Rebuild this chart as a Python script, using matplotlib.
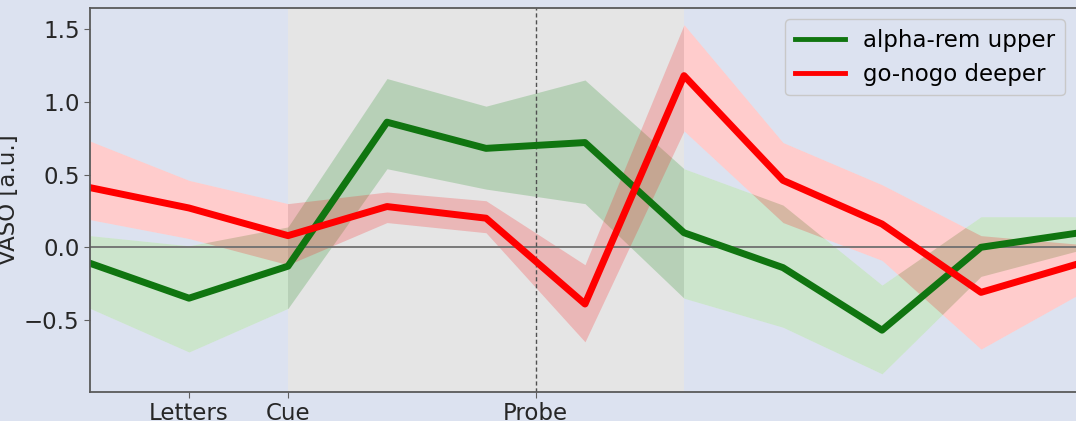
import numpy as np
import matplotlib
matplotlib.use("Agg")
import matplotlib.pyplot as plt
from matplotlib.lines import Line2D

# time points (in TR) and the two layer/condition averages with their error bands
t = np.arange(11)

alpha_rem_upper = [-0.11, -0.35, -0.13, 0.86, 0.68, 0.72, 0.10, -0.14, -0.57, 0.00, 0.10]
alpha_rem_hi = [0.08, 0.01, 0.14, 1.16, 0.97, 1.15, 0.54, 0.29, -0.26, 0.21, 0.21]
alpha_rem_lo = [-0.42, -0.72, -0.42, 0.54, 0.40, 0.30, -0.35, -0.55, -0.87, -0.20, -0.02]

gonogo_deeper = [0.41, 0.27, 0.08, 0.28, 0.20, -0.39, 1.18, 0.46, 0.16, -0.31, -0.11]
gonogo_hi = [0.73, 0.46, 0.30, 0.38, 0.32, -0.12, 1.53, 0.72, 0.43, 0.08, 0.02]
gonogo_lo = [0.19, 0.06, -0.12, 0.17, 0.10, -0.65, 0.80, 0.17, -0.09, -0.70, -0.32]

event_ticks = [1, 2, 4.5]
event_labels = ["Letters", "Cue", "Probe"]
trial_window = (2, 6)
probe_time = 4.5

bg = "#dce2f0"
fs = 16.5

fig = plt.figure(figsize=(10.76, 4.21), dpi=100, facecolor=bg)
ax = fig.add_axes([90 / 1076, 29 / 421, 990 / 1076, 384 / 421])
ax.set_facecolor(bg)

# white base under the shaded window and the bands
ax.axvspan(*trial_window, color="white", lw=0, zorder=0.2)
ax.fill_between(t, alpha_rem_lo, alpha_rem_hi, color="white", lw=0, zorder=0.2)
ax.fill_between(t, gonogo_lo, gonogo_hi, color="white", lw=0, zorder=0.2)

ax.axvspan(*trial_window, color="grey", alpha=0.2, lw=0, zorder=0.4)
ax.fill_between(t, alpha_rem_lo, alpha_rem_hi, color="green", alpha=0.2, lw=0, zorder=0.6)
ax.fill_between(t, gonogo_lo, gonogo_hi, color="red", alpha=0.2, lw=0, zorder=0.7)

ax.axhline(0, color="#707070", lw=1.3, zorder=1.5)
ax.axvline(probe_time, color="#505050", lw=1.0, ls=(0, (3, 2)), zorder=1.5)

ax.plot(t, alpha_rem_upper, color="#107510", lw=5, zorder=2)
ax.plot(t, gonogo_deeper, color="red", lw=5, zorder=2.1)

ax.set_xlim(0, 10)
ax.set_ylim(-0.995, 1.645)
ax.set_yticks([-0.5, 0.0, 0.5, 1.0, 1.5])
ax.set_xticks(event_ticks)
ax.set_xticklabels(event_labels)
ax.tick_params(labelsize=fs, colors="#606060", labelcolor="#262626", length=4)

ax.set_ylabel("VASO [a.u.]", fontsize=fs, color="#262626")
ax.yaxis.set_label_coords(-0.0705, 0.5)

for side in ["left", "bottom", "top"]:
    ax.spines[side].set_color("#5a5a5a")
    ax.spines[side].set_linewidth(1.3)
ax.spines["right"].set_visible(False)

handles = [Line2D([], [], color="#107510", lw=3.5), Line2D([], [], color="red", lw=3.5)]
leg = ax.legend(handles, ["alpha-rem upper", "go-nogo deeper"], loc="upper right",
                bbox_to_anchor=(986 / 990, 1), fontsize=fs, facecolor=bg, framealpha=1,
                edgecolor="#c8c8c8", handlelength=2.2)
leg.set_zorder(5)

fig.savefig("out.png", dpi=100, facecolor=bg)
